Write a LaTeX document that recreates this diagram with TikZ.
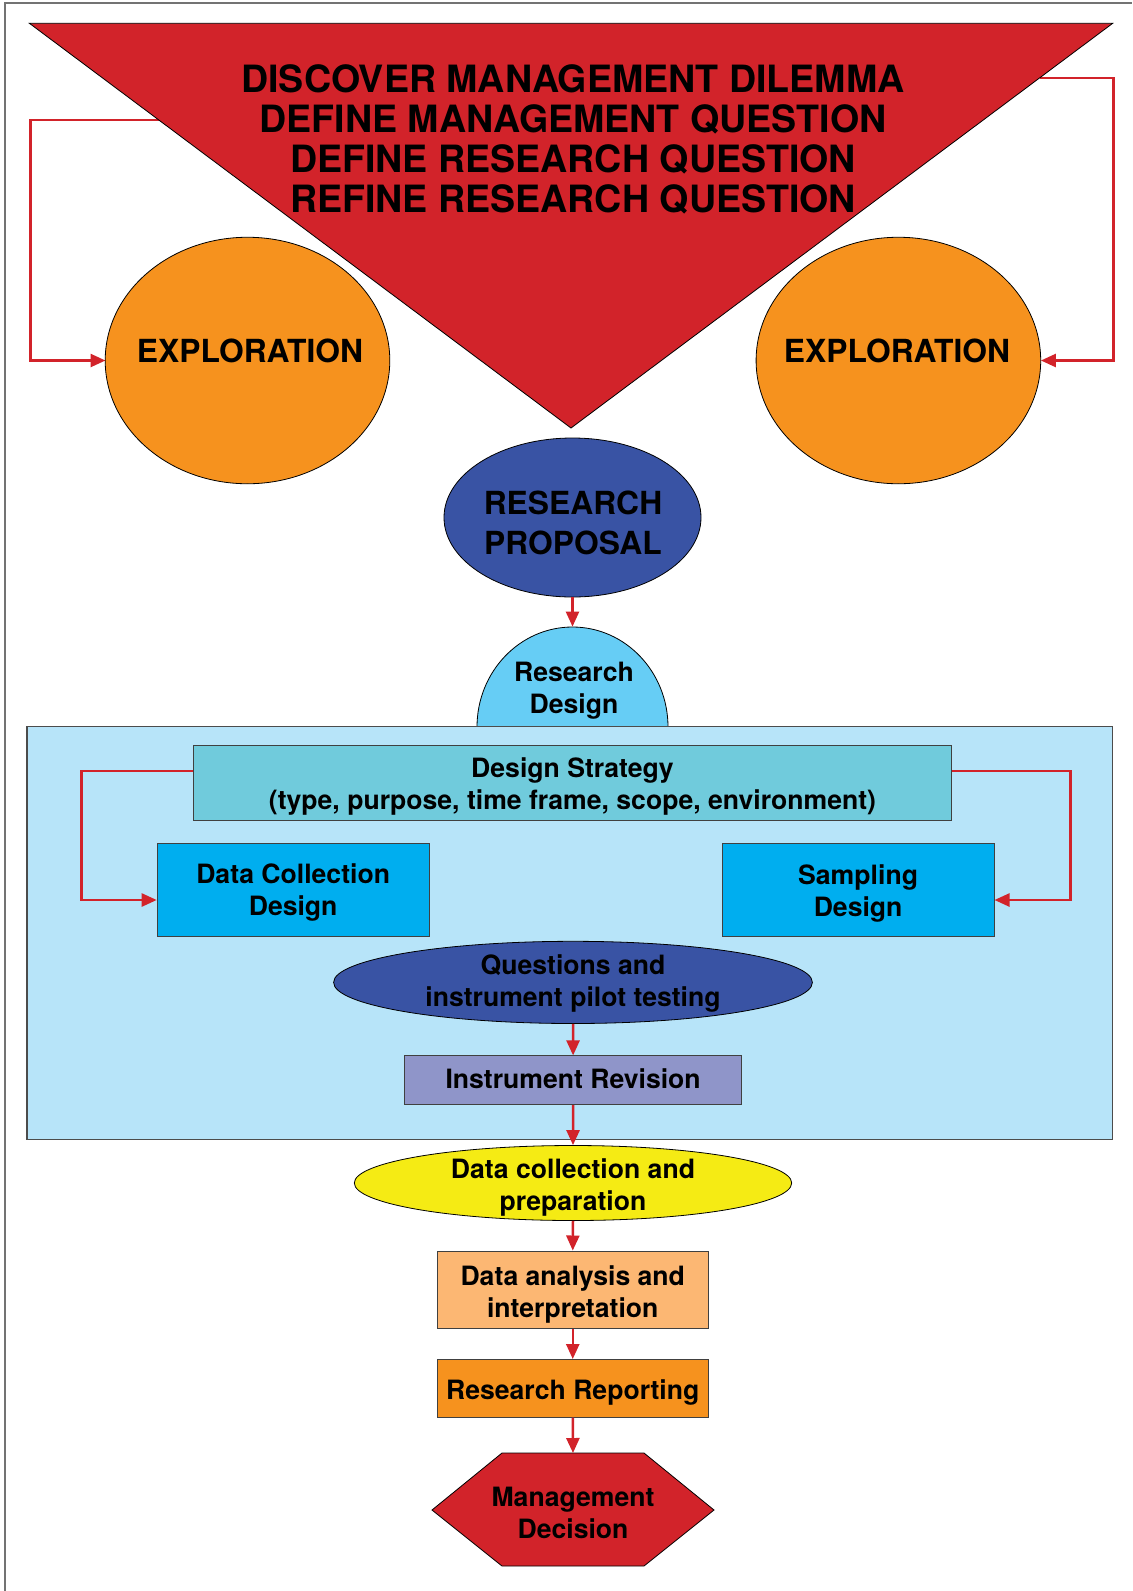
\documentclass[tikz,border=0pt]{standalone}
\usepackage{fontspec}
\setmainfont{TeX Gyre Heros}
\usetikzlibrary{arrows.meta,shapes.geometric}

\begin{document}
\begin{tikzpicture}[x=0.5pt,y=-0.5pt,font=\bfseries,
  flow/.style={draw=rouge,line width=1.25pt,-{Triangle[length=7.5pt,width=6.5pt]}},
  blob/.style={ellipse,draw=black,line width=0.4pt,inner sep=0pt},
  boite/.style={draw=black!75,line width=0.5pt,inner sep=0pt},
  grand/.style={font=\fontsize{18.8}{20}\selectfont\bfseries,align=center},
  moyen/.style={font=\fontsize{15.9}{20}\selectfont\bfseries,align=center},
  petit/.style={font=\fontsize{13.3}{16}\selectfont\bfseries,align=center}]
\definecolor{rouge}{RGB}{210,35,42}
\definecolor{orangee}{RGB}{246,146,30}
\definecolor{bleu}{RGB}{57,83,164}
\definecolor{ciel}{RGB}{102,205,245}
\definecolor{pale}{RGB}{183,228,249}
\definecolor{sarcelle}{RGB}{112,203,220}
\definecolor{azur}{RGB}{0,174,239}
\definecolor{lavande}{RGB}{143,149,201}
\definecolor{jaune}{RGB}{245,235,20}
\definecolor{peche}{RGB}{252,183,115}
\useasboundingbox (0,0) rectangle (1132,1591);
\draw[black!55,line width=0.6pt] (5,1591) -- (5,3) -- (1132,3);

\coordinate (triG) at (158.8,120);
\coordinate (triD) at (1039.5,78);
\draw[flow] (triG) -- (30.4,120) |- (247.5-142,360.5);
\draw[flow] (triD) -- (1113.7,78) |- (898.4+142.5,360.5);
\filldraw[fill=rouge,draw=black,line width=0.4pt] (29.4,23.3) -- (1112.7,23.3) -- (571,428) -- cycle;
\node[grand] (etapes) at (573,139) {DISCOVER MANAGEMENT DILEMMA\\DEFINE MANAGEMENT QUESTION\\DEFINE RESEARCH QUESTION\\REFINE RESEARCH QUESTION};

\foreach \n/\x/\tx in {expG/247.5/250,expD/898.4/897} {
  \node[blob,fill=orangee,minimum width=142.3pt,minimum height=123.25pt] (\n) at (\x,360.5) {};
  \node[moyen] (\n txt) at (\tx,351) {EXPLORATION};
}

\node[blob,fill=bleu,minimum width=128.5pt,minimum height=79.5pt] (prop) at (572.5,517.5) {};
\node[moyen] (proptxt) at (573,523) {RESEARCH\\PROPOSAL};
\node[blob,fill=ciel,minimum width=95.5pt,minimum height=100pt] (rd) at (572.5,727) {};
\draw[flow] (prop.south) -- (rd.north);
\node[petit] (rdtxt) at (574,690.5) {Research\\Design};

\filldraw[fill=pale,draw=black!70,line width=0.6pt] (27,726.5) rectangle (1112.7,1139.5);
\node[boite,fill=sarcelle,minimum width=378.85pt,minimum height=37.55pt] (strat) at (572.5,783) {};
\node[petit] (strattxt) at (572.5,786.5) {Design Strategy\\(type, purpose, time frame, scope, environment)};
\node[boite,fill=azur,minimum width=135.95pt,minimum height=46.15pt] (dcd) at (293.15,890) {};
\node[petit] (dcdtxt) at (293.15,892) {Data Collection\\Design};
\node[boite,fill=azur,minimum width=135.9pt,minimum height=46.15pt] (samp) at (858.1,890) {};
\node[petit] (samptxt) at (858.1,893) {Sampling\\Design};
\draw[flow] ([yshift=6pt]strat.west) -- ++(-111.5,0) |- ([yshift=-5pt]dcd.west);
\draw[flow] ([yshift=6pt]strat.east) -- ++(118.7,0) |- ([yshift=-5pt]samp.east);

\node[blob,fill=bleu,minimum width=239.4pt,minimum height=41.1pt] (quest) at (573,982.4) {};
\node[petit] (questtxt) at (573,983) {Questions and\\instrument pilot testing};
\node[boite,fill=lavande,minimum width=168.4pt,minimum height=24.35pt] (rev) at (573.1,1080.25) {};
\node[petit] (revtxt) at (573.1,1078.5) {Instrument Revision};
\draw[flow] (quest.south) -- (rev.north);

\node[blob,fill=jaune,minimum width=218.7pt,minimum height=37.5pt] (coll) at (573,1183) {};
\node[petit] (colltxt) at (573,1187.5) {Data collection and\\preparation};
\node[boite,fill=peche,minimum width=135.75pt,minimum height=38.75pt] (ana) at (572.75,1289.75) {};
\node[petit] (anatxt) at (572.75,1294.5) {Data analysis and\\interpretation};
\node[boite,fill=orangee,minimum width=135.75pt,minimum height=28.75pt] (rep) at (572.75,1388.25) {};
\node[petit] (reptxt) at (572.75,1392) {Research Reporting};

\filldraw[fill=rouge,draw=black,line width=0.4pt] (432,1510) -- (502,1453) -- (644,1453) -- (714,1510) -- (644,1566) -- (502,1566) -- cycle;
\coordinate (decHaut) at (573,1453);
\node[petit] (dec) at (573,1513) {Management\\Decision};

\foreach \a/\b in {rev/coll,coll/ana,ana/rep} \draw[flow] (\a.south) -- (\b.north);
\draw[flow] (rep.south) -- (decHaut);
\end{tikzpicture}
\end{document}
